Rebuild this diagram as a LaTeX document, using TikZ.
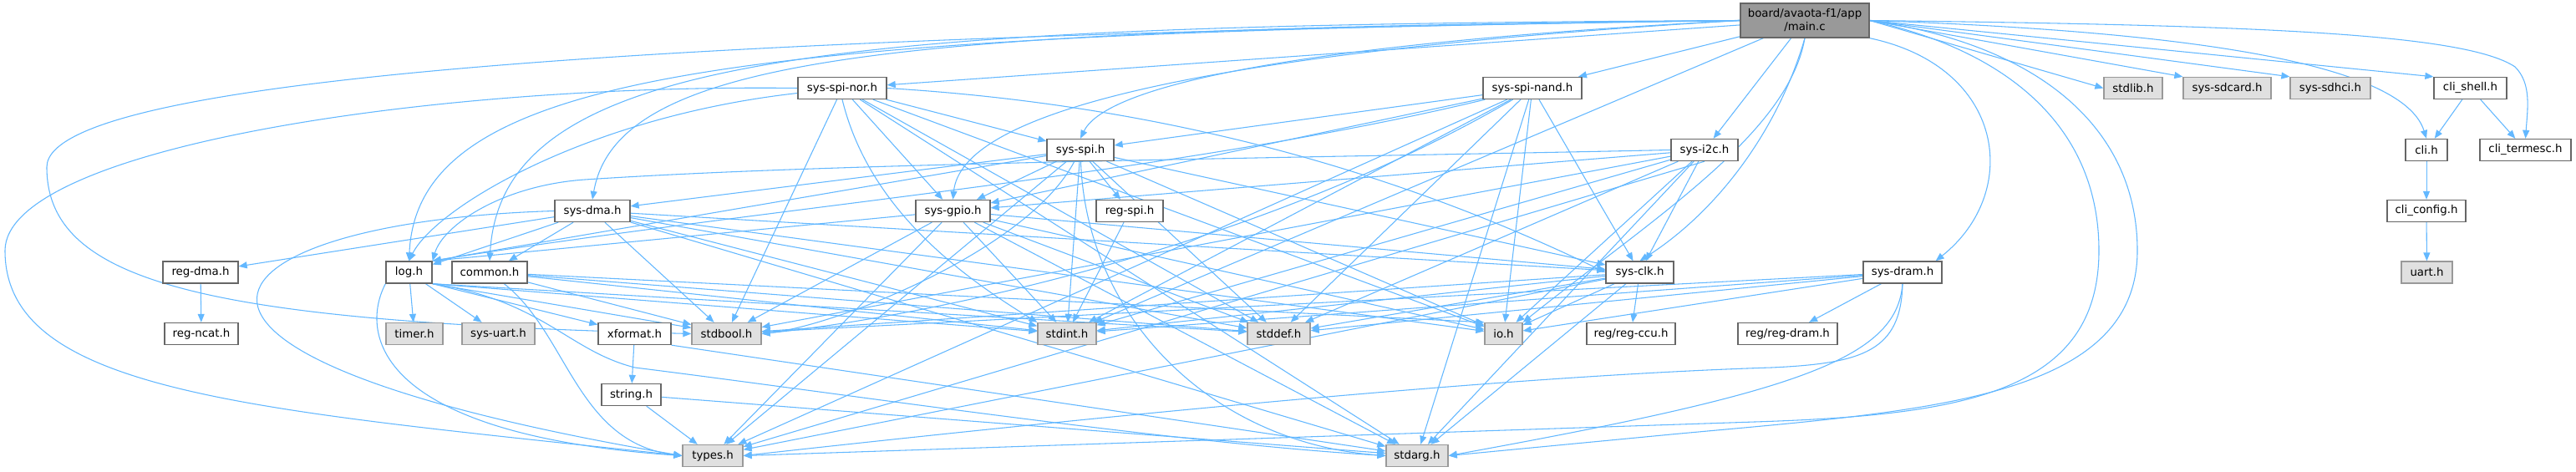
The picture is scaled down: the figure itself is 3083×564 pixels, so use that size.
\documentclass[tikz,border=0pt]{standalone}
\usepackage{fontspec}
\setmainfont{DejaVu Sans}
\usetikzlibrary{arrows.meta}
\pgfdeclarelayer{edgelayer}
\pgfsetlayers{edgelayer,main}
\definecolor{edgeblue}{HTML}{63B8FF}
\definecolor{ndborder}{HTML}{666666}
\definecolor{grborder}{HTML}{999999}
\definecolor{grfill}{HTML}{E0E0E0}
\definecolor{mainfill}{HTML}{999999}
\begin{document}
\begin{tikzpicture}[x=0.75pt,y=-0.75pt,
  bw/.style={minimum width=#1*0.75pt},
  nd/.style={draw=ndborder, fill=white, line width=1pt, inner sep=0pt,
    minimum height=26*0.75pt, font=\fontsize{10pt}{12pt}\selectfont},
  gr/.style={nd, draw=grborder, fill=grfill},
  mainnd/.style={nd, fill=mainfill, align=center, minimum height=41*0.75pt},
  dep/.style={draw=edgeblue, line width=0.8pt, -{Triangle[length=7.5pt,width=6pt]}}]
\useasboundingbox (0,0) rectangle (3083,564);
% nodes
\node[mainnd, bw=154] (mainc) at (2160,24.5) {board/avaota-f1/app\\/main.c};
\node[nd, bw=106] (spinor) at (1008,105.5) {sys-spi-nor.h};
\node[nd, bw=118] (spinand) at (1834,105.5) {sys-spi-nand.h};
\node[gr, bw=70] (stdlib) at (2553,105.5) {stdlib.h};
\node[gr, bw=105] (sdcard) at (2665.5,105.5) {sys-sdcard.h};
\node[gr, bw=96] (sdhci) at (2789,105.5) {sys-sdhci.h};
\node[nd, bw=87] (clishell) at (2956.5,105.5) {cli\_shell.h};
\node[nd, bw=80] (spi) at (1293,179.5) {sys-spi.h};
\node[nd, bw=80] (i2c) at (2040,179.5) {sys-i2c.h};
\node[nd, bw=50] (cli) at (2904,179.5) {cli.h};
\node[nd, bw=109] (clitermesc) at (3022.5,179.5) {cli\_termesc.h};
\node[nd, bw=90] (dma) at (709,252.5) {sys-dma.h};
\node[nd, bw=89] (gpio) at (1140.5,252.5) {sys-gpio.h};
\node[nd, bw=80] (regspi) at (1352,252.5) {reg-spi.h};
\node[nd, bw=94] (cliconfig) at (2904,252.5) {cli\_config.h};
\node[nd, bw=90] (regdma) at (240,326) {reg-dma.h};
\node[nd, bw=55] (log) at (489.5,326) {log.h};
\node[nd, bw=90] (common) at (586,326) {common.h};
\node[nd, bw=81] (clk) at (1962.5,326) {sys-clk.h};
\node[nd, bw=94] (dram) at (2277,326) {sys-dram.h};
\node[gr, bw=61] (uart) at (2904.5,326) {uart.h};
\node[nd, bw=88] (regncat) at (241,399.5) {reg-ncat.h};
\node[gr, bw=68] (timer) at (496,399.5) {timer.h};
\node[gr, bw=87] (sysuart) at (596.5,399.5) {sys-uart.h};
\node[nd, bw=87] (xformat) at (759.5,399.5) {xformat.h};
\node[gr, bw=83] (stdbool) at (869.5,399.5) {stdbool.h};
\node[gr, bw=70] (stdint) at (1277,399.5) {stdint.h};
\node[gr, bw=75] (stddef) at (1530.5,399.5) {stddef.h};
\node[gr, bw=45] (io) at (1799.5,399.5) {io.h};
\node[nd, bw=106] (regccu) at (1952,399.5) {reg/reg-ccu.h};
\node[nd, bw=119] (regdram) at (2139.5,399.5) {reg/reg-dram.h};
\node[nd, bw=71] (string) at (755.5,472.5) {string.h};
\node[gr, bw=72] (types) at (853,545.5) {types.h};
\node[gr, bw=74] (stdarg) at (1696,545.5) {stdarg.h};
% connectors
\begin{pgfonlayer}{edgelayer}
\fill[white] (0,0) rectangle (3083,564);
\foreach \s/\t in {mainc/spinor, mainc/spinand, mainc/i2c, mainc/stdint,
  mainc.east/stdlib.west, mainc.east/sdcard.north west, mainc.east/sdhci.north west, mainc.east/clishell.north west,
  spinor/spi, spinor/gpio, spinor/io, spinor/stddef, spinor/stdbool, spinor/stdarg,
  spinand/spi, spinand/gpio, spinand/clk, spinand/io, spinand/stdint, spinand/stddef, spinand/types, spinand/stdarg,
  spi/dma, spi/gpio, spi/regspi, spi/log.north east, spi/clk, spi/io, spi/stdint, spi/stddef, spi/types,
  gpio/log.north east, gpio/clk, gpio/io, gpio/stdint, gpio/stddef, gpio/stdbool, gpio/types, gpio/stdarg,
  i2c/gpio, i2c/clk, i2c/io, i2c/stdint, i2c/stddef, i2c/stdbool, i2c.south/types, i2c/stdarg,
  dma/regdma, dma/common, dma/log, dma/clk, dma/io, dma/stdint, dma/stddef, dma/stdbool, dma/stdarg,
  clk/regccu, clk/io, clk/stdint, clk/stddef, clk/stdbool, clk/types, clk/stdarg,
  dram/regdram, dram/io, dram/stdint, dram/stddef, dram/stdbool,
  log/timer, log/sysuart, log.south east/xformat, log.south east/stdbool, log.south east/stdint, log.south east/stddef,
  common/stdint, common/stddef, common/stdbool, common/io.north west,
  xformat/string, xformat.south east/stdarg, string/types, string/stdarg, regspi/stdint, regdma/regncat,
  clishell/cli, clishell/clitermesc, cli/cliconfig, cliconfig/uart}
  \draw[dep] (\s) -- (\t);
% curved connectors from main.c
\draw[dep] (mainc.west) .. controls (1500,55) and (1320,110) .. (spi.north);
\draw[dep] (mainc.west) .. controls (1400,65) and (1150,140) .. (gpio.north);
\draw[dep] (mainc.west) .. controls (1100,35) and (740,60) .. (dma.north);
\draw[dep] (mainc.west) .. controls (900,40) and (500,80) .. (log.north);
\draw[dep] (mainc.west) .. controls (1000,30) and (600,60) .. (common.north);
\draw[dep] (mainc.south) .. controls (2130,150) and (2060,250) .. (clk.north);
\draw[dep] (mainc.south) .. controls (2140,160) and (1980,260) .. (io.north east);
\draw[dep] (mainc.south east) .. controls (2400,80) and (2420,230) .. ([xshift=-6pt]dram.north east);
\draw[dep] (mainc.east) .. controls (2700,40) and (2880,90) .. (cli.north);
\draw[dep] (mainc.east) .. controls (2700,30) and (2950,40) .. (3010,80)
   .. controls (3030,100) and (3025,130) .. (clitermesc.north);
\draw[dep] (mainc.west) .. controls (1000,40) and (56,80) .. (56,200)
   .. controls (56,340) and (250,385) .. (stdbool.west);
\draw[dep] (mainc.east) .. controls (2400,60) and (2512,150) .. (2512,300)
   .. controls (2512,470) and (2350,497) .. (2100,505) -- (types.east);
\draw[dep] (mainc.east) .. controls (2450,55) and (2558,160) .. (2558,300)
   .. controls (2558,480) and (2300,492) .. (2000,520) -- (stdarg.east);
% other curved connectors
\draw[dep] (spinor) .. controls (700,140) and (520,250) .. (log.north);
\draw[dep] (spinor.east) .. controls (1300,120) and (1600,170) .. (clk.west);
\draw[dep] (spinor.south) .. controls (1040,250) and (1150,330) .. (stdint.north west);
\draw[dep] (spinor.west) .. controls (500,100) and (6,180) .. (6,300)
   .. controls (6,470) and (300,490) .. (types.west);
\draw[dep] (spinand) .. controls (1400,210) and (900,250) .. (log.north east);
\draw[dep] (spinand) .. controls (1500,300) and (1100,380) .. (stdbool.east);
\draw[dep] (spi) .. controls (1230,300) and (1000,390) .. (stdbool.east);
\draw[dep] (spi) .. controls (1300,380) and (1450,530) .. (stdarg.west);
\draw[dep] (i2c.west) .. controls (1500,190) and (1000,195) .. (700,215)
   .. controls (600,222) and (530,270) .. (log.north east);
\draw[dep] (dma.west) .. controls (250,265) and (80,420) .. (types.west);
\draw[dep] (dram.south) .. controls (2275,420) and (2230,435) .. (2120,440)
   .. controls (1800,450) and (1300,500) .. (types.east);
\draw[dep] (dram.south) .. controls (2270,430) and (2150,470) .. (stdarg.east);
\draw[dep] (log.south west) .. controls (430,400) and (450,520) .. (types.west);
\draw[dep] (log.south east) .. controls (650,360) and (680,420) .. (760,440)
   .. controls (1000,470) and (1400,530) .. (stdarg.west);
\draw[dep] (common) .. controls (680,400) and (690,530) .. (types.west);
\end{pgfonlayer}
\end{tikzpicture}
\end{document}
